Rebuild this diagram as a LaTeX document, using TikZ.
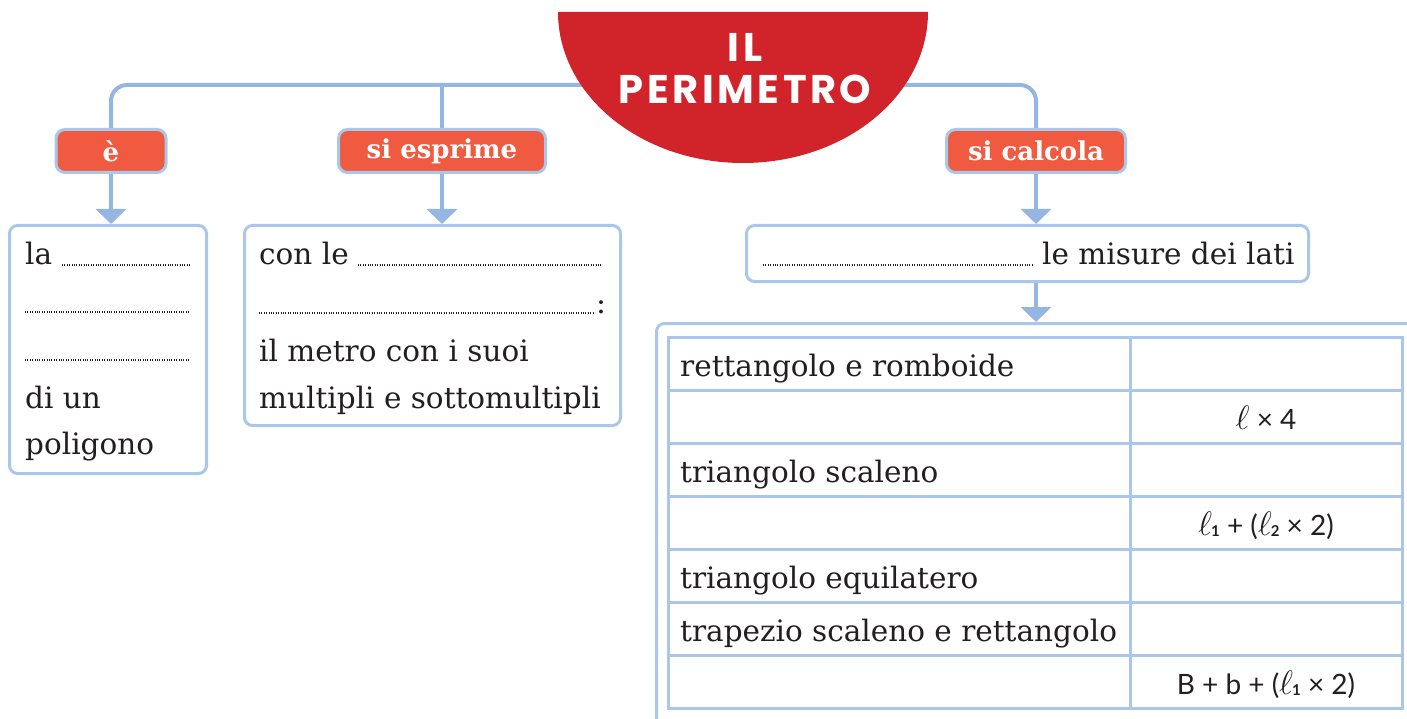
\RequirePackage{fix-cm}
\documentclass[tikz,border=0pt]{standalone}
\usepackage{fontspec}
\setmainfont{DejaVu Serif}
\newfontfamily\titlefamily{Poppins}[LetterSpace=9]
\newfontfamily\formulafamily{Lato}
\usetikzlibrary{positioning,arrows.meta}

\definecolor{titlered}{RGB}{208,35,42}
\definecolor{tagorange}{RGB}{240,90,64}
\definecolor{linkblue}{RGB}{149,182,226}
\definecolor{frameblue}{RGB}{170,198,234}
\definecolor{inkgray}{RGB}{35,31,32}

\newcommand{\bodyfont}{\fontsize{29.5}{34}\selectfont}
\newcommand{\tagfont}{\fontsize{26}{30}\selectfont\bfseries}
\newcommand{\headfont}{\titlefamily\bfseries\fontsize{40}{42}\selectfont}
\newcommand{\calcfont}{\formulafamily\fontsize{28}{32}\selectfont}
\newcommand{\ellsign}{{\fontsize{34}{34}\selectfont$\ell$}}
\newcommand{\side}[1]{\ellsign\kern-1pt\raisebox{-1pt}{\fontsize{15}{15}\selectfont\bfseries #1}}

\tikzset{
  link/.style={draw=linkblue, line width=4},
  pointer/.style={link, -{Triangle[width=30pt,length=15pt]}},
  verbtag/.style={draw=frameblue, fill=tagorange, line width=3, rounded corners=9, text=white, font=\tagfont, minimum height=43, inner sep=0},
  answerbox/.style={draw=frameblue, line width=3, rounded corners=8, fill=white, anchor=north west, inner sep=0},
  bodytext/.style={font=\bodyfont, text=inkgray, inner sep=0, anchor=base west},
  calctext/.style={font=\calcfont, text=inkgray, inner sep=0, anchor=base},
  headline/.style={font=\headfont, text=white, align=center, inner sep=0},
  blank/.style={line width=1.2, dash pattern=on 1pt off 1.4pt, inkgray},
  gridline/.style={draw=frameblue, line width=3},
}

\begin{document}
\begin{tikzpicture}[x=1pt,y=1pt,yscale=-1]
\useasboundingbox (0,0) rectangle (1407,719);
\clip (0,0) rectangle (1407,719);

% tags
\draw (111,151) node [verbtag, minimum width=110] (tagE) {è};
\draw (442,151) node [verbtag, minimum width=207] (tagS) {si esprime};
\draw (1036,151) node [verbtag, minimum width=179] (tagC) {si calcola};

% boxes
\draw (8,224) node [answerbox, minimum width=197, minimum height=248] (boxE) {};
\draw (243,224) node [answerbox, minimum width=376, minimum height=200] (boxS) {};
\draw (745,224) node [answerbox, minimum width=562, minimum height=56] (boxC) {};
\draw (655,322) node [answerbox, minimum width=800, minimum height=420] (tabframe) {};

\coordinate (bar) at (743,85);
\draw [link, rounded corners=16] (tagE.north) |- (bar) -| (tagC.north);
\draw [link] (tagS.north) -- (tagS.north |- bar);

\draw [pointer] (tagE.south) -- (tagE.south |- boxE.north);
\draw [pointer] (tagS.south) -- (tagS.south |- boxS.north);
\draw [pointer] (tagC.south) -- (tagC.south |- boxC.north);
\draw [pointer] (boxC.south -| tagC.south) -- (tabframe.north -| tagC.south);

% title
\fill [titlered] (558,12) arc [start angle=180, end angle=0, x radius=185, y radius=151] -- cycle;
\draw (745,69) node [headline] (title) {IL\\PERIMETRO};

% Text Node
\draw (25,265) node [bodytext] (laE) {la};
\draw [blank] (62,265) -- (190,265);
\draw [blank] (25,312) -- (190,312);
\draw [blank] (25,360) -- (190,360);
\draw (25,408) node [bodytext] (diunE) {di un};
\draw (25,454) node [bodytext] (poligonoE) {poligono};

\draw (259,265) node [bodytext] (conleS) {con le};
\draw [blank] (358,265) -- (602,265);
\draw [blank] (259,313) -- (595,313);
\draw (596,313) node [bodytext] (colonS) {:};
\draw (259,361) node [bodytext] (metroS) {il metro con i suoi};
\draw (259,408) node [bodytext] (multipliS) {multipli e sottomultipli};

\draw [blank] (763,265) -- (1033,265);
\draw (1042,265) node [bodytext] (misureC) {le misure dei lati};

% table
\draw [gridline] (668,337) rectangle (1402,708);
\draw [gridline] (1130,337) -- (1130,708);
\draw [gridline] (668,390) -- (1402,390);
\draw [gridline] (668,443) -- (1402,443);
\draw [gridline] (668,496) -- (1402,496);
\draw [gridline] (668,549) -- (1402,549);
\draw [gridline] (668,602) -- (1402,602);
\draw [gridline] (668,655) -- (1402,655);

\draw (680,376) node [bodytext] (rowRett) {rettangolo e romboide};
\draw (1266,429) node [calctext] (calcQuad) {\ellsign\ × 4};
\draw (680,482) node [bodytext] (rowScal) {triangolo scaleno};
\draw (1266,535) node [calctext] (calcIsos) {\side{1} + (\side{2} × 2)};
\draw (680,588) node [bodytext] (rowEqui) {triangolo equilatero};
\draw (680,641) node [bodytext] (rowTrap) {trapezio scaleno e rettangolo};
\draw (1266,694) node [calctext] (calcTrap) {B + b + (\side{1} × 2)};

\end{tikzpicture}
\end{document}
